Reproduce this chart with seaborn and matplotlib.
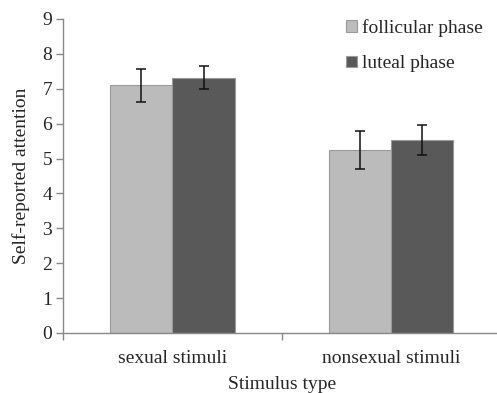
import pandas as pd
import matplotlib
matplotlib.use('Agg')
import matplotlib.pyplot as plt
import seaborn as sns

# values
stimuli = ['sexual stimuli', 'nonsexual stimuli']
phases = ['follicular phase', 'luteal phase']
follicular_mean = [7.10, 5.24]
luteal_mean = [7.32, 5.53]
follicular_err = [0.47, 0.54]
luteal_err = [0.33, 0.44]

df = pd.DataFrame({
    'Stimulus type': stimuli * 2,
    'phase': [phases[0]] * 2 + [phases[1]] * 2,
    'attention': follicular_mean + luteal_mean,
    'err': follicular_err + luteal_err,
})

sns.set_style('white')
plt.rcParams['font.family'] = ['Liberation Serif', 'DejaVu Serif']

fig = plt.figure(figsize=(4.97, 3.93), dpi=100)
ax = fig.add_axes([0.127, 0.1527, 0.880, 0.799])

sns.barplot(data=df, x='Stimulus type', y='attention', hue='phase',
            palette=['#bbbbbb', '#595959'], width=0.57, errorbar=None,
            edgecolor='#9a9a9a', linewidth=0.8, ax=ax)

# error bars at the bar centres
for bars, ph in zip(ax.containers, phases):
    sub = df[df['phase'] == ph]
    xs = [b.get_x() + b.get_width() / 2 for b in bars]
    ax.errorbar(xs, sub['attention'], yerr=sub['err'], fmt='none',
                ecolor='#111111', elinewidth=1.1, capsize=3.3, capthick=1.1)

ax.set_xlim(-0.5, 1.5)
ax.set_ylim(0, 9)
ax.set_yticks(range(10))
ax.set_xticks([-0.5, 0.5, 1.5], minor=True)
ax.tick_params(axis='x', which='major', length=0, labelsize=14, pad=12)
ax.tick_params(axis='x', which='minor', length=5, color='#888888', width=1, bottom=True, direction='out')
ax.tick_params(axis='y', length=5, color='#888888', width=1, labelsize=14, left=True, direction='out', pad=3)

for s in ['top', 'right']:
    ax.spines[s].set_visible(False)
for s in ['left', 'bottom']:
    ax.spines[s].set_color('#888888')
    ax.spines[s].set_linewidth(1)

ax.set_ylabel('Self-reported attention', fontsize=14, labelpad=9)
ax.set_xlabel('Stimulus type', fontsize=14, labelpad=7)

ax.legend(loc='upper left', bbox_to_anchor=(346 / 497, 1 - 19 / 393),
          bbox_transform=fig.transFigure, frameon=False, fontsize=14,
          handlelength=0.55, handleheight=0.55, handletextpad=0.25,
          labelspacing=0.95, borderpad=0, borderaxespad=0)

fig.savefig('out.png', dpi=100)
